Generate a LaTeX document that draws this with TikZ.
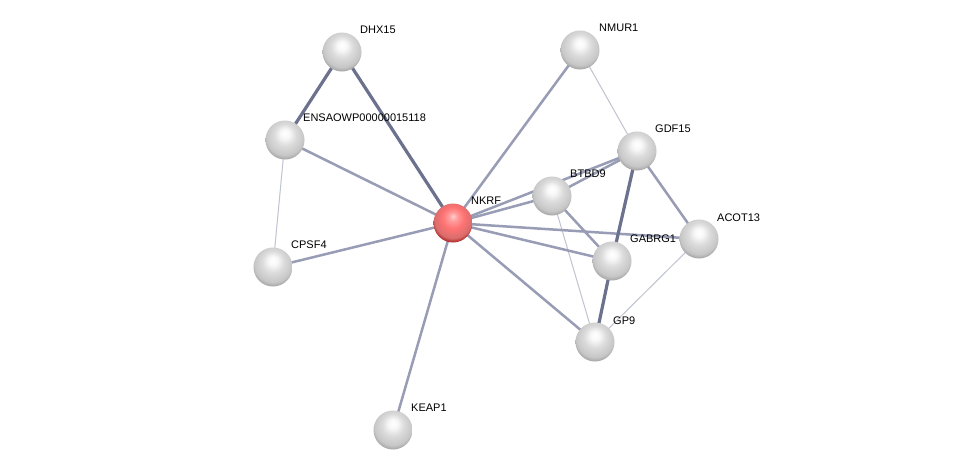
\documentclass[tikz,border=0pt]{standalone}
\usepackage{fontspec}
\setmainfont{Liberation Sans}
\pgfdeclareradialshading{spheregray}{\pgfpoint{0bp}{9bp}}{%
  color(0bp)=(white); color(6bp)=(white!97!black); color(14bp)=(white!86!black);
  color(24bp)=(white!78!black); color(31bp)=(white!58!black); color(34bp)=(white!52!black); color(50bp)=(white!52!black)}
\pgfdeclareradialshading{spherered}{\pgfpoint{0bp}{9bp}}{%
  color(0bp)=(white!80!red); color(6bp)=(red!40!white); color(14bp)=(red!55!white);
  color(24bp)=(red!50!white!85!black); color(31bp)=(red!60!black); color(34bp)=(red!45!black); color(50bp)=(red!45!black)}
\begin{document}
\begin{tikzpicture}[x=1pt,y=-1pt,
  prot/.style={circle,minimum size=39pt,inner sep=0pt,shading=spheregray},
  qprot/.style={circle,minimum size=39pt,inner sep=0pt,shading=spherered},
  lbl/.style={anchor=west,inner sep=0pt,font=\fontsize{11}{13}\selectfont},
  thin/.style={draw={rgb,255:red,192;green,195;blue,208},line width=1pt},
  mid/.style={draw={rgb,255:red,152;green,156;blue,180},line width=2.5pt},
  strong/.style={draw={rgb,255:red,108;green,113;blue,142},line width=3.2pt}]
\useasboundingbox (0,0) rectangle (976,475);
\fill[white] (0,0) rectangle (976,475);
% node positions
\coordinate (pDHX) at (342,52);
\coordinate (pENS) at (285,140);
\coordinate (pCPS) at (273,267);
\coordinate (pNKR) at (453,223);
\coordinate (pKEA) at (393,430);
\coordinate (pNMU) at (580,50);
\coordinate (pGDF) at (637,151);
\coordinate (pBTB) at (552,196);
\coordinate (pGAB) at (612,261);
\coordinate (pACO) at (699,239);
\coordinate (pGP9) at (595,342);
% edges
\draw[thin] (pENS) -- (pCPS);
\draw[thin] (pNMU) -- (pGDF);
\draw[thin] (pBTB) -- (pGP9);
\draw[thin] (pACO) -- (pGP9);
\draw[mid] (pENS) -- (pNKR);
\draw[mid] (pCPS) -- (pNKR);
\draw[mid] (pNKR) -- (pKEA);
\draw[mid] (pNKR) -- (pNMU);
\draw[mid] (pNKR) -- (pBTB);
\draw[mid] (pNKR) -- (pGDF);
\draw[mid] (pBTB) -- (pGDF);
\draw[mid] (pNKR) -- (pACO);
\draw[mid] (pNKR) -- (pGAB);
\draw[mid] (pNKR) -- (pGP9);
\draw[mid] (pBTB) -- (pGAB);
\draw[mid] (pGDF) -- (pACO);
\draw[strong] (pDHX) -- (pENS);
\draw[strong] (pDHX) -- (pNKR);
\draw[strong] (pGDF) -- (pGAB);
\draw[strong] (pGAB) -- (pGP9);
% nodes
\node[prot] (DHX) at (pDHX) {};
\node[prot] (ENS) at (pENS) {};
\node[prot] (CPS) at (pCPS) {};
\node[qprot] (NKR) at (pNKR) {};
\node[prot] (KEA) at (pKEA) {};
\node[prot] (NMU) at (pNMU) {};
\node[prot] (GDF) at (pGDF) {};
\node[prot] (BTB) at (pBTB) {};
\node[prot] (GAB) at (pGAB) {};
\node[prot] (ACO) at (pACO) {};
\node[prot] (GP9) at (pGP9) {};
% labels
\node[lbl] (lDHX) at (360,30) {DHX15};
\node[lbl] (lENS) at (303,118) {ENSAOWP00000015118};
\node[lbl] (lCPS) at (291,245) {CPSF4};
\node[lbl] (lNKR) at (471,201) {NKRF};
\node[lbl] (lKEA) at (411,408) {KEAP1};
\node[lbl] (lNMU) at (599,28) {NMUR1};
\node[lbl] (lGDF) at (655,129) {GDF15};
\node[lbl] (lBTB) at (570,174) {BTBD9};
\node[lbl] (lGAB) at (630,239) {GABRG1};
\node[lbl] (lACO) at (717,218) {ACOT13};
\node[lbl] (lGP9) at (613,321) {GP9};
\end{tikzpicture}
\end{document}
